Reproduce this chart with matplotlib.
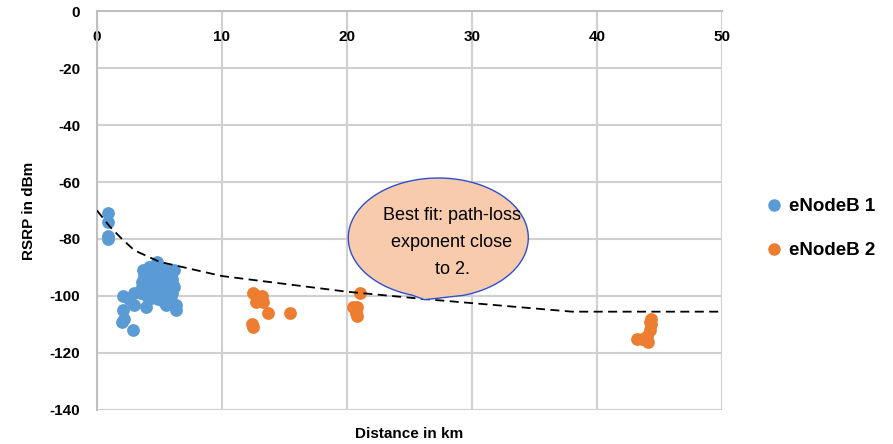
import numpy as np
import matplotlib.pyplot as plt
from matplotlib.patches import Polygon
from matplotlib.lines import Line2D

# eNodeB 1 measurements (km, dBm)
b1_x = [0.9, 0.9, 0.9, 0.9, 2.1, 2.1, 2.0, 2.2, 2.9, 3.0, 3.0, 2.6,
        3.9, 3.7, 3.6, 3.6, 3.8, 4.0, 4.2, 4.3, 4.4, 4.5, 4.6, 4.8, 4.8,
        4.9, 5.0, 5.1, 5.2, 5.3, 5.4, 5.5, 5.6, 5.7, 5.8, 5.9, 6.0, 6.1,
        6.2, 6.2, 6.3, 6.3, 5.5, 4.2, 3.5, 4.0, 5.0, 6.0]
b1_y = [-71, -74, -79, -80, -100, -105, -109, -108, -112, -99, -103, -101,
        -104, -91, -95, -97, -93, -100, -90, -94, -97, -99, -92, -88, -95,
        -101, -90, -97, -93, -99, -102, -91, -95, -98, -92, -100, -94, -96,
        -91, -97, -103, -105, -103, -101, -99, -96, -100, -99]

# eNodeB 2 measurements
b2_x = [12.5, 12.8, 13.2, 12.7, 13.3, 12.4, 12.5, 13.7, 15.4,
        21.0, 20.5, 20.8, 20.7, 20.8,
        43.2, 43.6, 44.0, 44.1, 44.2, 44.3, 44.3, 44.2]
b2_y = [-99, -100, -100, -102, -102, -110, -111, -106, -106,
        -99, -104, -104, -106, -107,
        -115, -115, -114, -116, -112, -110, -108, -109]

# best fit curve
fit_x = [0, 1, 2, 3, 5, 8, 10, 20, 26, 38, 50]
fit_y = [-70, -75.5, -80, -84, -88, -91, -93, -98.5, -101, -105.5, -105.5]

blue = '#5B9BD5'
orange = '#ED7D31'
grid = '#D0D0D0'

plt.rcParams['font.family'] = ['Liberation Sans', 'DejaVu Sans']
plt.rcParams['axes.unicode_minus'] = False

fig = plt.figure(figsize=(8.93, 4.44), dpi=100)
ax = fig.add_axes([0.1086, 0.0766, 0.7, 0.8986])

ax.set_xlim(0, 50)
ax.set_ylim(-140, 0)
ax.set_xticks(np.arange(0, 51, 10))
ax.set_yticks(np.arange(-140, 1, 20))
ax.grid(True, color=grid, linewidth=1.5)
ax.set_axisbelow(True)
for s in ['right', 'bottom']:
    ax.spines[s].set_visible(False)
for s in ['top', 'left']:
    ax.spines[s].set_color('#BFBFBF')
    ax.spines[s].set_linewidth(1.5)
ax.xaxis.tick_top()
ax.tick_params(axis='x', length=0, pad=-24, labelsize=11)
ax.tick_params(axis='y', length=0, pad=12, labelsize=11)
for lab in ax.get_xticklabels() + ax.get_yticklabels():
    lab.set_fontweight('bold')

ax.scatter(b1_x, b1_y, s=85, color=blue, zorder=3, linewidths=0)
ax.scatter(b2_x, b2_y, s=85, color=orange, zorder=3, linewidths=0)
ax.plot(fit_x, fit_y, color='black', linestyle=(0, (5, 3)), linewidth=1.3, zorder=4)

# callout bubble
cx, cy, a, b = 27.3, -79.6, 7.2, 21.0
t = np.radians(np.linspace(286, 253 + 360, 200))
ex = cx + a * np.cos(t)
ey = cy + b * np.sin(t)
pts = list(zip(ex, ey)) + [(26.2, -101.3)]
bubble = Polygon(pts, closed=True, facecolor='#F8CBAD', edgecolor='#2E4FD0',
                 linewidth=1.0, zorder=5)
ax.add_patch(bubble)
ax.text(28.4, -81.3, 'Best fit: path-loss\nexponent close\nto 2.', ha='center', va='center',
        fontsize=13, zorder=6, linespacing=1.75)

ax.set_xlabel('Distance in km', fontsize=11, fontweight='bold', labelpad=12)
ax.set_ylabel('RSRP in dBm', fontsize=11, fontweight='bold', labelpad=10)

handles = [Line2D([], [], marker='o', linestyle='', color=blue, markersize=8),
           Line2D([], [], marker='o', linestyle='', color=orange, markersize=8)]
leg = fig.legend(handles, ['eNodeB 1', 'eNodeB 2'], loc='center left',
                 bbox_to_anchor=(0.837, 0.485), frameon=False, handlelength=1.0,
                 handletextpad=0.3, labelspacing=1.45,
                 prop={'size': 13.5, 'weight': 'bold'})

fig.savefig('out.png', dpi=100)
